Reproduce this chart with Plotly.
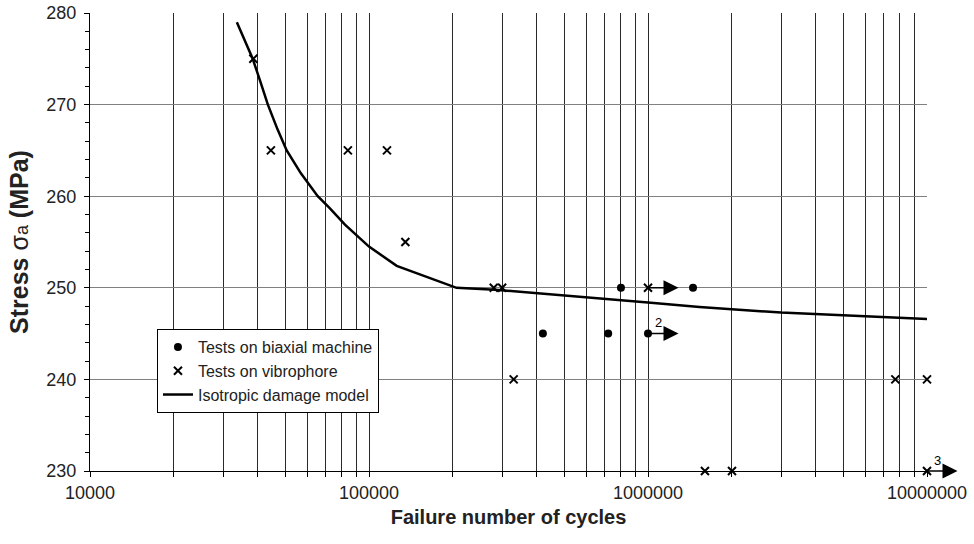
import math
import plotly.graph_objects as go

# ---- data ----
biaxial_N = [420000, 720000, 800000, 1000000, 1450000]
biaxial_S = [245, 245, 250, 245, 250]

vibro_N = [38500, 44500, 84000, 116000, 135000, 280000, 300000, 330000,
           1000000, 1600000, 2000000, 7700000, 10000000, 10000000]
vibro_S = [275, 265, 265, 265, 255, 250, 250, 240,
           250, 230, 230, 240, 240, 230]

model_N = [33600, 36000, 38300, 40800, 43400, 47000, 50700, 57000, 65500,
           72300, 82000, 100000, 125700, 206000, 283000, 1000000, 1530000,
           3000000, 10000000]
model_S = [279.0, 276.9, 275.0, 272.5, 270.0, 267.3, 265.0, 262.5, 260.0,
           258.7, 256.9, 254.5, 252.4, 250.0, 249.8, 248.4, 247.9,
           247.3, 246.6]

# run-out tests (arrows) and their counts
runout_N = [1000000, 1000000, 10000000]
runout_S = [250, 245, 230]
runout_label = ["", "2", "3"]

x_tick_vals = [m * 10 ** k for k in range(4, 7) for m in range(1, 10)] + [10 ** 7]
x_tick_text = [str(v) if str(v).strip("0") == "1" else "" for v in x_tick_vals]

FONT = "Liberation Sans, Arial, sans-serif"

fig = go.Figure()
fig.add_trace(go.Scatter(
    x=biaxial_N, y=biaxial_S, mode="markers", name="Tests on biaxial machine",
    marker=dict(symbol="circle", size=8, color="black"), cliponaxis=False))
fig.add_trace(go.Scatter(
    x=vibro_N, y=vibro_S, mode="markers", name="Tests on vibrophore",
    marker=dict(symbol="x-thin", size=8, color="black",
                line=dict(width=2, color="black")), cliponaxis=False))
fig.add_trace(go.Scatter(
    x=model_N, y=model_S, mode="lines", name="Isotropic damage model",
    line=dict(color="black", width=2.5)))

for n, s, lab in zip(runout_N, runout_S, runout_label):
    lx = math.log10(n)  # annotations on a log axis use log10 units
    fig.add_annotation(x=lx, y=s, xref="x", yref="y", ax=32, ay=0,
                       showarrow=True, arrowside="start",
                       startarrowhead=2, startarrowsize=2.0,
                       arrowwidth=1.5, arrowcolor="black", text="")
    if lab:
        fig.add_annotation(x=lx, y=s, xref="x", yref="y", text=lab,
                           showarrow=False, xshift=10, yshift=11,
                           font=dict(family=FONT, size=13, color="black"))

fig.update_layout(
    width=974, height=544,
    margin=dict(l=90, r=47, t=13, b=73, autoexpand=False),
    paper_bgcolor="white", plot_bgcolor="white",
    font=dict(family=FONT, color="#222"),
    showlegend=True,
    legend=dict(x=0.08, y=0.31, xanchor="left", yanchor="top",
                bgcolor="white", bordercolor="black", borderwidth=1,
                font=dict(family=FONT, size=16, color="#222"),
                tracegroupgap=0, itemwidth=30),
    xaxis=dict(type="log", range=[4, 7], tickvals=x_tick_vals, ticktext=x_tick_text,
               automargin=False,
               showgrid=True, gridcolor="#2a2a2a", gridwidth=1,
               showline=True, linecolor="black", linewidth=1,
               ticks="outside", ticklen=5, tickcolor="black",
               tickfont=dict(family=FONT, size=18, color="#222"),
               title=dict(text="<b>Failure number of cycles</b>", standoff=8,
                          font=dict(family=FONT, size=20, color="#222")),
               zeroline=False),
    yaxis=dict(range=[230, 280], dtick=10, tick0=230,
               automargin=False,
               showgrid=True, gridcolor="#808080", gridwidth=1,
               showline=True, linecolor="black", linewidth=1,
               ticks="outside", ticklen=5, tickcolor="black",
               minor=dict(dtick=2, ticks="outside", ticklen=4, tickcolor="black", showgrid=False),
               tickfont=dict(family=FONT, size=18, color="#222"),
               ticklabelstandoff=4,
               title=dict(text="<b>Stress </b>σ<span style='font-size:18px'>a</span><b> (MPa)</b>",
                          standoff=10,
                          font=dict(family=FONT, size=25, color="#222")),
               zeroline=False),
)

fig.write_html("out.html", config={"displayModeBar": False},
               post_script="document.body.style.margin='0px';")
